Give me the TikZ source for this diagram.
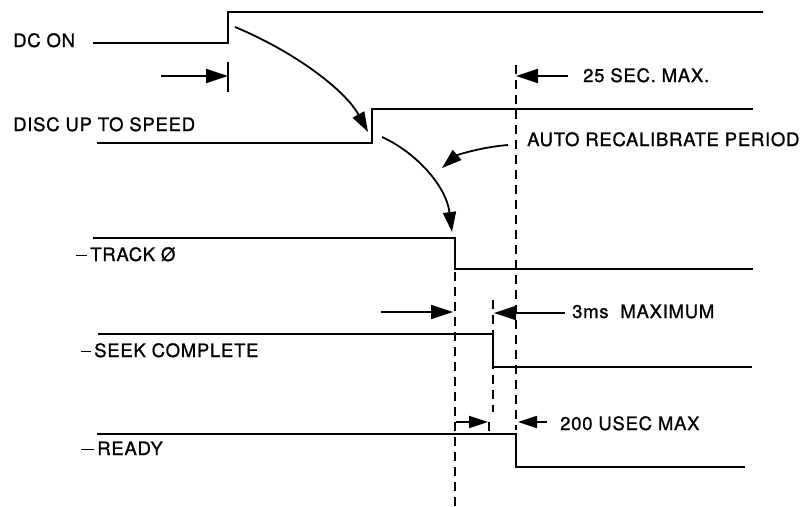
\documentclass[tikz,border=0pt]{standalone}
\usepackage{fontspec}
\usepackage{tikz}
\usetikzlibrary{arrows.meta, positioning, calc}
\newfontfamily\timingfont[LetterSpace=4, FakeBold=1]{TeX Gyre Heros}

\begin{document}
\begin{tikzpicture}[x=1pt, y=-1pt, >={Triangle[length=22pt,width=14pt]},
    signal/.style={line width=2.3pt, line join=miter},
    guide/.style={line width=1.7pt, dash pattern=on 9pt off 6pt},
    dim/.style={line width=2pt, ->},
    smalldim/.style={line width=1.8pt, -{Triangle[length=19pt,width=12pt]}},
    causearrow/.style={line width=1.8pt, -{Triangle[length=20pt,width=13pt]}},
    tick/.style={line width=1.8pt},
    lbl/.style={anchor=base west, inner sep=0pt, font=\timingfont\fontsize{18.5}{21}\selectfont}]

    \useasboundingbox (0,0) rectangle (811,506);

    % Signal names
    \node[lbl] (dcon) at (13,47) {DC ON};
    \node[lbl] (disc) at (13,131) {DISC UP TO SPEED};
    \node[lbl] (track) at (76,261) {\rule[5pt]{11pt}{1pt}\,TRACK Ø};
    \node[lbl] (seek) at (81,357) {\rule[5pt]{10pt}{1.4pt}\,SEEK COMPLETE};
    \node[lbl] (ready) at (81,455) {\rule[5pt]{13pt}{1.4pt}\,READY};

    % Timing notes
    \node[lbl] (maxsec) at (583,82) {25 SEC. MAX.};
    \node[lbl] (recal) at (527,146) {AUTO RECALIBRATE PERIOD};
    \node[lbl] (maxms) at (572,318) {3ms\ \ MAXIMUM};
    \node[lbl] (maxus) at (560,430) {200 USEC MAX};

    % Waveforms
    \draw[signal] (93,43) -- (228,43) -- (228,12) -- (763,12);
    \draw[signal] (97,143) -- (372,143) -- (372,109) -- (753,109);
    \draw[signal] (93,238) -- (455,238) -- (455,269) -- (753,269);
    \draw[signal] (98,334) -- (493,334) -- (493,367) -- (752,367);
    \draw[signal] (97,434) -- (516,434) -- (516,467) -- (745,467);

    % Edge marks
    \coordinate (dcedge) at (228,76);
    \coordinate (trackedge) at (455,312);
    \coordinate (seekedge) at (493,313);
    \coordinate (readyedge) at (516,76);
    \draw[guide] (516,65) -- (516,430);
    \draw[guide] (455,272) -- (455,506);
    \draw[guide] (493,300) -- (493,412);
    \draw[tick] (228,62) -- (228,92);
    \draw[tick] (489,422) -- (489,431);

    % Dimension arrows
    \draw[dim] (161,76) -- (dcedge);
    \draw[dim] (568,76) -- (readyedge);
    \draw[dim] (381,312) -- ($(trackedge)+(-2,0)$);
    \draw[dim] (565,313) -- ($(seekedge)+(1,0)$);
    \draw[smalldim] (456,422) -- (488,422);
    \draw[smalldim] (547,422) -- (518,422);

    % Cause arrows
    \draw[causearrow] (235,27) .. controls (295,52) and (345,90) .. (368,132);
    \draw[causearrow] (382,137) .. controls (415,152) and (446,185) .. (452,232);
    \draw[causearrow] (508,145) .. controls (482,147) and (457,155) .. (442,168);
\end{tikzpicture}
\end{document}
